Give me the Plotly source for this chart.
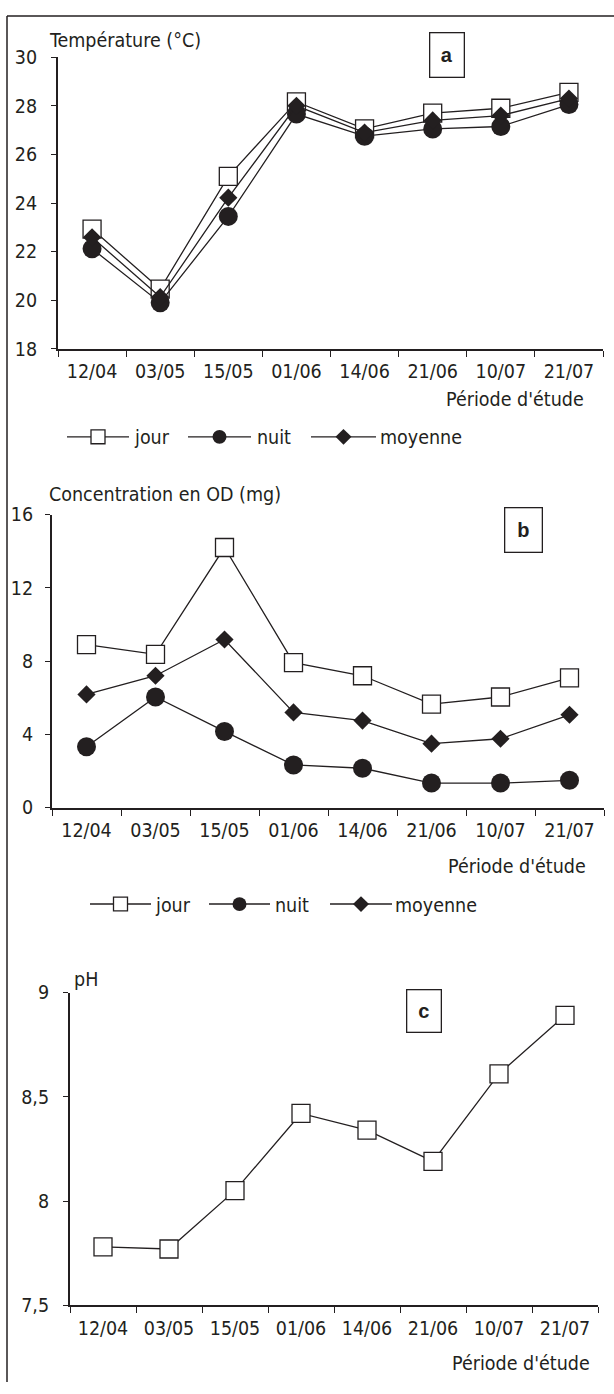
import plotly.graph_objects as go

# ---------------- data ----------------
dates = ["12/04", "03/05", "15/05", "01/06", "14/06", "21/06", "10/07", "21/07"]

temp_jour = [22.93, 20.46, 25.1, 28.16, 27.05, 27.7, 27.9, 28.55]
temp_nuit = [22.12, 19.9, 23.45, 27.66, 26.75, 27.05, 27.15, 28.05]
temp_moy = [22.59, 20.13, 24.22, 28.0, 26.9, 27.4, 27.6, 28.3]

od_jour = [8.9, 8.37, 14.2, 7.92, 7.2, 5.65, 6.04, 7.08]
od_nuit = [3.32, 6.04, 4.16, 2.33, 2.15, 1.34, 1.34, 1.49]
od_moy = [6.18, 7.2, 9.18, 5.2, 4.75, 3.49, 3.76, 5.07]

ph_vals = [7.78, 7.77, 8.05, 8.42, 8.34, 8.19, 8.61, 8.89]

temp_ticks = [18, 20, 22, 24, 26, 28, 30]
od_ticks = [0, 4, 8, 12, 16]
ph_ticks = [7.5, 8, 8.5, 9]
ph_ticklabels = ["7,5", "8", "8,5", "9"]

series_names = ["jour", "nuit", "moyenne"]

# ---------------- style ----------------
W, H = 614, 1394
FONT = "Liberation Sans Narrow, Arial Narrow, DejaVu Sans Condensed, sans-serif"
INK = "#231f20"
TXT = 19.5


def px(x):
    return x / W


def py(y):
    return 1 - y / H


styles = {
    "jour": dict(symbol="square", size=18, color="white", line=dict(color=INK, width=1.3)),
    "nuit": dict(symbol="circle", size=19, color=INK, line=dict(color=INK, width=0)),
    "moyenne": dict(symbol="diamond", size=14, color=INK, line=dict(color=INK, width=0)),
}

fig = go.Figure()


def add_series(y, name, xa, ya):
    fig.add_trace(go.Scatter(
        x=dates, y=y, name=name, mode="lines+markers",
        line=dict(color=INK, width=1.3),
        marker=styles[name],
        xaxis=xa, yaxis=ya, showlegend=False, cliponaxis=False,
    ))


for vals, nm in zip([temp_jour, temp_nuit, temp_moy], series_names):
    add_series(vals, nm, "x", "y")
for vals, nm in zip([od_jour, od_nuit, od_moy], series_names):
    add_series(vals, nm, "x2", "y2")
add_series(ph_vals, "jour", "x3", "y3")


def xaxis_cfg(x0, x1):
    return dict(
        type="category", categoryorder="array", categoryarray=dates,
        range=[-0.5, len(dates) - 0.5], tickson="boundaries",
        ticks="outside", ticklen=6, tickwidth=1.3, tickcolor=INK,
        showline=True, linewidth=2, linecolor=INK,
        showgrid=False, zeroline=False,
        tickfont=dict(family=FONT, size=TXT, color=INK),
        ticklabelstandoff=4,
        domain=[px(x0), px(x1)], fixedrange=True,
    )


def yaxis_cfg(rng, tickvals, ticktext, ytop, ybot, standoff):
    return dict(
        range=rng, tickvals=tickvals, ticktext=ticktext,
        ticks="outside", ticklen=5, tickwidth=1.3, tickcolor=INK,
        showline=True, linewidth=2, linecolor=INK,
        showgrid=False, zeroline=False,
        tickfont=dict(family=FONT, size=TXT, color=INK),
        ticklabelstandoff=standoff,
        domain=[py(ybot), py(ytop)], fixedrange=True,
    )


fig.update_layout(
    width=W, height=H,
    margin=dict(l=0, r=0, t=0, b=0),
    paper_bgcolor="white", plot_bgcolor="white",
    font=dict(family=FONT, size=TXT, color=INK),
    showlegend=False,
    xaxis=dict(xaxis_cfg(58, 603), anchor="y"),
    yaxis=dict(yaxis_cfg([18, 30], temp_ticks, [str(t) for t in temp_ticks], 47, 343.5, 10), anchor="x"),
    xaxis2=dict(xaxis_cfg(52, 604), anchor="y2"),
    yaxis2=dict(yaxis_cfg([0, 16], od_ticks, [str(t) for t in od_ticks], 512, 810, 8), anchor="x2"),
    xaxis3=dict(xaxis_cfg(70, 598), anchor="y3"),
    yaxis3=dict(yaxis_cfg([7.5, 9], ph_ticks, ph_ticklabels, 998, 1316, 10), anchor="x3"),
)

annotations = []
shapes = []


def text(t, x, y, xanchor="left", size=TXT):
    annotations.append(dict(
        text=t, x=px(x), y=py(y), xref="paper", yref="paper",
        xanchor=xanchor, yanchor="middle", showarrow=False,
        font=dict(family=FONT, size=size, color=INK),
    ))


def box_label(t, x0, y0, x1, y1):
    annotations.append(dict(
        text="<b>%s</b>" % t, x=px((x0 + x1) / 2), y=py((y0 + y1) / 2),
        xref="paper", yref="paper", xanchor="center", yanchor="middle",
        showarrow=False, width=x1 - x0 - 2, height=y1 - y0 - 2, borderpad=0,
        bordercolor=INK, borderwidth=1.3, bgcolor="white",
        font=dict(family="Liberation Sans, Arial, sans-serif", size=20, color=INK),
    ))


# axis titles
text("Température (°C)", 47, 30)
text("Concentration en OD (mg)", 47, 492)
text("pH", 72, 985)
for xr, yy in [(586, 395), (588, 870), (592, 1375)]:
    text("Période d'étude", xr, yy, xanchor="right")

box_label("a", 429, 22, 464, 67)
box_label("b", 504, 505, 542, 550)
box_label("c", 406, 995, 441, 1038)


# manual legends
def legend_item(kind, x0, x1, y, label_x, label):
    shapes.append(dict(type="line", xref="paper", yref="paper",
                       x0=px(x0), x1=px(x1), y0=py(y), y1=py(y),
                       line=dict(color=INK, width=1.3)))
    cx = (x0 + x1) / 2
    r = 7
    if kind == "jour":
        shapes.append(dict(type="rect", xref="paper", yref="paper",
                           x0=px(cx - r), x1=px(cx + r), y0=py(y + r), y1=py(y - r),
                           fillcolor="white", line=dict(color=INK, width=1.3)))
    elif kind == "nuit":
        shapes.append(dict(type="circle", xref="paper", yref="paper",
                           x0=px(cx - r), x1=px(cx + r), y0=py(y + r), y1=py(y - r),
                           fillcolor=INK, line=dict(color=INK, width=0)))
    else:
        d = 8
        path = "M %f,%f L %f,%f L %f,%f L %f,%f Z" % (
            px(cx - d), py(y), px(cx), py(y - d), px(cx + d), py(y), px(cx), py(y + d))
        shapes.append(dict(type="path", xref="paper", yref="paper", path=path,
                           fillcolor=INK, line=dict(color=INK, width=0)))
    text(label, label_x, y + 1)


legend_a = [(67, 129, 132), (188, 251, 255), (311, 376, 378)]
legend_b = [(90, 151, 153), (209, 270, 273), (330, 392, 393)]
for (x0, x1, lx), nm in zip(legend_a, series_names):
    legend_item(nm, x0, x1, 433, lx, nm)
for (x0, x1, lx), nm in zip(legend_b, series_names):
    legend_item(nm, x0, x1, 908, lx, nm)

# partial frame (top and left edges)
shapes.append(dict(type="line", xref="paper", yref="paper", x0=px(7), x1=1.0,
                   y0=py(5), y1=py(5), line=dict(color=INK, width=1.5)))
shapes.append(dict(type="line", xref="paper", yref="paper", x0=px(7), x1=px(7),
                   y0=py(5), y1=0.0, line=dict(color=INK, width=1.5)))

fig.update_layout(annotations=annotations, shapes=shapes)

fig.write_html(
    "out.html",
    config={"displayModeBar": False},
    post_script="document.body.style.margin='0px';document.body.style.overflow='hidden';",
)
